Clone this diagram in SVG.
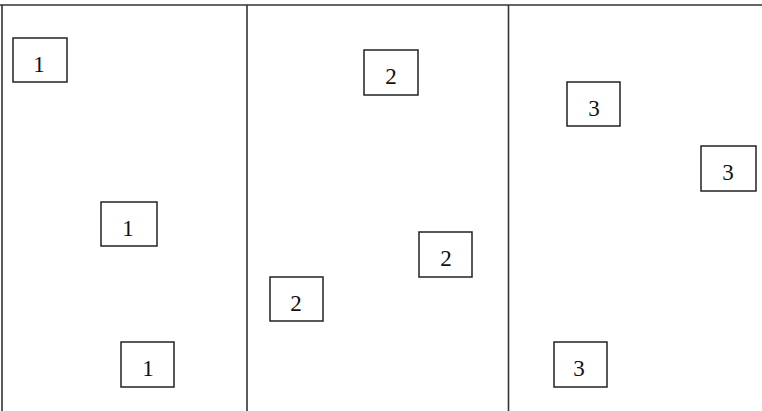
<svg xmlns="http://www.w3.org/2000/svg" width="762" height="411" viewBox="0 0 762 411">
<style>
.frame{stroke:#333;stroke-width:1.6;fill:none}
.box{fill:#fff;stroke:#222;stroke-width:1.5}
.lbl{font-family:"Liberation Serif","Times New Roman",serif;font-size:23px;fill:#111;text-anchor:middle}
</style>
<rect width="762" height="411" fill="#fff"/>
<g id="frame">
<line class="frame" x1="0" y1="5" x2="762" y2="5"/>
<line class="frame" x1="2" y1="5" x2="2" y2="411"/>
<line class="frame" x1="247" y1="5" x2="247" y2="411"/>
<line class="frame" x1="508.5" y1="5" x2="508.5" y2="411"/>
</g>
<g id="n1a"><rect class="box" x="13" y="38" width="54" height="44"/><text class="lbl" x="39" y="72">1</text></g>
<g id="n1b"><rect class="box" x="101" y="202" width="56" height="44"/><text class="lbl" x="128" y="236">1</text></g>
<g id="n1c"><rect class="box" x="121" y="342" width="53" height="45"/><text class="lbl" x="148" y="376">1</text></g>
<g id="n2a"><rect class="box" x="364" y="50" width="54" height="45"/><text class="lbl" x="391" y="84">2</text></g>
<g id="n2b"><rect class="box" x="419" y="232" width="53" height="45"/><text class="lbl" x="446" y="266">2</text></g>
<g id="n2c"><rect class="box" x="270" y="277" width="53" height="44"/><text class="lbl" x="296" y="311">2</text></g>
<g id="n3a"><rect class="box" x="567" y="82" width="53" height="44"/><text class="lbl" x="594" y="116">3</text></g>
<g id="n3b"><rect class="box" x="701" y="146" width="55" height="45"/><text class="lbl" x="728" y="180">3</text></g>
<g id="n3c"><rect class="box" x="554" y="342" width="53" height="45"/><text class="lbl" x="579" y="376">3</text></g>
<g id="connectors"></g>
</svg>
